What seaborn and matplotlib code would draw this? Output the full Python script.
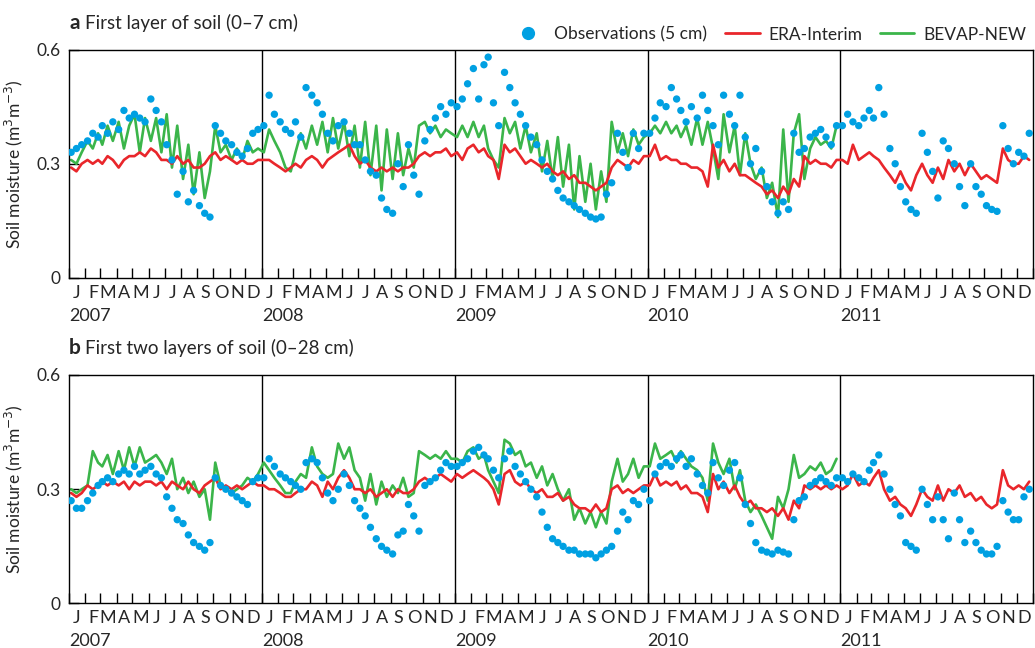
import matplotlib
matplotlib.use("Agg")
import matplotlib.pyplot as plt
import matplotlib.dates as mdates
from matplotlib.lines import Line2D
from matplotlib.ticker import FuncFormatter, NullFormatter
import numpy as np
import pandas as pd
import seaborn as sns

sns.set_style("ticks")
plt.rcParams["font.family"] = ["Lato", "DejaVu Sans"]

BLUE = "#00a0e2"
RED = "#e9262b"
GREEN = "#3bb54a"

nan = np.nan
years = [2007, 2008, 2009, 2010, 2011]
month_letters = ["J", "F", "M", "A", "M", "J", "J", "A", "S", "O", "N", "D"]
dekad_days = [5, 15, 25]  # three values per month

# ---- panel a: first layer of soil (0-7 cm) ----
obs_top = [
    # 2007
    0.33, 0.34, 0.35, 0.36, 0.38, 0.37, 0.40, 0.38, 0.41, 0.39, 0.44, 0.42,
    0.43, 0.42, 0.41, 0.47, 0.44, 0.41, 0.35, 0.31, 0.22, 0.28, 0.20, 0.23,
    0.19, 0.17, 0.16, 0.40, 0.38, 0.36, 0.35, 0.33, 0.32, 0.34, 0.38, 0.39,
    # 2008
    0.40, 0.48, 0.43, 0.41, 0.39, 0.38, 0.41, 0.37, 0.50, 0.48, 0.46, 0.43,
    0.38, 0.36, 0.40, 0.41, 0.38, 0.35, 0.35, 0.31, 0.28, 0.27, 0.21, 0.18,
    0.17, 0.30, 0.24, 0.35, 0.27, 0.22, 0.36, 0.39, 0.42, 0.45, 0.43, 0.46,
    # 2009
    0.45, 0.47, 0.51, 0.55, 0.47, 0.56, 0.58, 0.46, 0.40, 0.54, 0.50, 0.46,
    0.43, 0.40, 0.37, 0.35, 0.31, 0.28, 0.26, 0.23, 0.21, 0.20, 0.19, 0.18,
    0.17, 0.16, 0.155, 0.16, 0.22, 0.25, 0.38, 0.33, 0.29, 0.38, 0.34, 0.38,
    # 2010
    0.38, 0.42, 0.46, 0.45, 0.50, 0.47, 0.44, 0.41, 0.45, 0.42, 0.48, 0.44,
    0.40, 0.35, 0.48, 0.43, 0.40, 0.48, 0.37, 0.30, 0.34, 0.28, 0.24, 0.20,
    0.17, 0.20, 0.18, 0.38, 0.33, 0.34, 0.37, 0.38, 0.39, 0.37, 0.35, 0.40,
    # 2011
    0.40, 0.43, 0.41, 0.40, 0.42, 0.44, 0.42, 0.50, 0.43, 0.34, 0.30, 0.24,
    0.20, 0.18, 0.17, 0.38, 0.33, 0.28, 0.21, 0.36, 0.34, 0.30, 0.24, 0.19,
    0.30, 0.24, 0.22, 0.19, 0.18, 0.175, 0.40, 0.34, 0.30, 0.33, 0.32, 0.38,
]
era_top = [
    0.29, 0.28, 0.30, 0.31, 0.30, 0.31, 0.30, 0.32, 0.31, 0.29, 0.31, 0.32,
    0.32, 0.33, 0.32, 0.34, 0.33, 0.31, 0.31, 0.30, 0.32, 0.30, 0.31, 0.29,
    0.29, 0.30, 0.32, 0.33, 0.31, 0.32, 0.31, 0.30, 0.31, 0.30, 0.30, 0.31,
    0.31, 0.31, 0.30, 0.29, 0.28, 0.29, 0.30, 0.29, 0.31, 0.32, 0.31, 0.29,
    0.31, 0.32, 0.33, 0.34, 0.35, 0.32, 0.30, 0.31, 0.29, 0.28, 0.29, 0.28,
    0.29, 0.28, 0.29, 0.29, 0.30, 0.32, 0.33, 0.32, 0.33, 0.33, 0.34, 0.32,
    0.33, 0.31, 0.34, 0.35, 0.33, 0.34, 0.32, 0.31, 0.26, 0.35, 0.33, 0.34,
    0.32, 0.30, 0.31, 0.30, 0.29, 0.30, 0.28, 0.27, 0.28, 0.26, 0.27, 0.25,
    0.25, 0.24, 0.23, 0.24, 0.25, 0.29, 0.31, 0.30, 0.29, 0.31, 0.30, 0.32,
    0.32, 0.35, 0.31, 0.32, 0.31, 0.31, 0.30, 0.30, 0.29, 0.29, 0.28, 0.24,
    0.35, 0.29, 0.31, 0.28, 0.30, 0.27, 0.27, 0.26, 0.25, 0.24, 0.22, 0.23,
    0.21, 0.24, 0.22, 0.26, 0.24, 0.32, 0.30, 0.31, 0.30, 0.30, 0.29, 0.31,
    0.31, 0.30, 0.35, 0.31, 0.32, 0.33, 0.32, 0.31, 0.29, 0.27, 0.25, 0.28,
    0.25, 0.23, 0.27, 0.30, 0.27, 0.25, 0.29, 0.26, 0.31, 0.28, 0.30, 0.27,
    0.30, 0.28, 0.26, 0.27, 0.26, 0.25, 0.34, 0.31, 0.30, 0.30, 0.32, 0.31,
]
bevap_top = [
    0.31, 0.30, 0.33, 0.36, 0.34, 0.38, 0.35, 0.40, 0.36, 0.41, 0.34, 0.40,
    0.43, 0.33, 0.42, 0.36, 0.42, 0.33, 0.43, 0.29, 0.40, 0.26, 0.35, 0.22,
    0.33, 0.21, 0.28, 0.40, 0.33, 0.35, 0.31, 0.34, 0.31, 0.36, 0.33, 0.34,
    0.33, 0.39, 0.36, 0.33, 0.29, 0.28, 0.33, 0.38, 0.34, 0.40, 0.35, 0.41,
    0.33, 0.42, 0.34, 0.41, 0.32, 0.40, 0.29, 0.41, 0.27, 0.40, 0.23, 0.39,
    0.26, 0.38, 0.27, 0.34, 0.29, 0.40, 0.41, 0.38, 0.40, 0.37, 0.39, 0.38,
    0.37, 0.40, 0.37, 0.41, 0.37, 0.40, 0.34, 0.31, 0.29, 0.42, 0.38, 0.41,
    0.34, 0.40, 0.33, 0.38, 0.28, 0.36, 0.26, 0.37, 0.24, 0.35, 0.18, 0.32,
    0.20, 0.30, 0.18, 0.28, 0.20, 0.41, 0.33, 0.38, 0.32, 0.39, 0.35, 0.37,
    0.38, 0.40, 0.38, 0.41, 0.38, 0.40, 0.37, 0.40, 0.35, 0.42, 0.35, 0.41,
    0.34, 0.26, 0.43, 0.33, 0.40, 0.27, 0.38, 0.30, 0.26, 0.29, 0.21, 0.25,
    0.16, 0.39, 0.20, 0.38, 0.43, 0.26, 0.34, 0.37, 0.35, 0.36, 0.34, 0.40,
] + [nan] * 36  # no BEVAP-NEW run for 2011

# ---- panel b: first two layers of soil (0-28 cm) ----
obs_bottom = [
    0.27, 0.25, 0.25, 0.27, 0.29, 0.31, 0.32, 0.33, 0.32, 0.34, 0.35, 0.34,
    0.36, 0.34, 0.35, 0.36, 0.34, 0.33, 0.28, 0.25, 0.22, 0.21, 0.18, 0.16,
    0.15, 0.14, 0.16, 0.33, 0.31, 0.30, 0.29, 0.28, 0.27, 0.26, 0.32, 0.33,
    0.33, 0.38, 0.36, 0.34, 0.33, 0.32, 0.31, 0.30, 0.37, 0.38, 0.37, 0.33,
    0.29, 0.27, 0.30, 0.34, 0.31, 0.27, 0.25, 0.23, 0.20, 0.17, 0.15, 0.14,
    0.13, 0.18, 0.19, 0.26, 0.23, 0.19, 0.31, 0.32, 0.33, 0.35, 0.37, 0.36,
    0.36, 0.37, 0.38, 0.40, 0.41, 0.39, 0.38, 0.35, 0.33, 0.38, 0.40, 0.36,
    0.34, 0.32, 0.30, 0.28, 0.24, 0.20, 0.17, 0.16, 0.15, 0.14, 0.14, 0.13,
    0.13, 0.13, 0.12, 0.13, 0.14, 0.15, 0.19, 0.24, 0.22, 0.27, 0.26, 0.30,
    0.27, 0.34, 0.36, 0.37, 0.36, 0.38, 0.39, 0.36, 0.38, 0.34, 0.31, 0.29,
    0.37, 0.33, 0.31, 0.35, 0.37, 0.33, 0.26, 0.21, 0.16, 0.14, 0.135, 0.13,
    0.14, 0.135, 0.13, 0.22, 0.27, 0.28, 0.31, 0.32, 0.33, 0.32, 0.31, 0.33,
    0.33, 0.32, 0.34, 0.33, 0.32, 0.35, 0.37, 0.39, 0.34, 0.30, 0.26, 0.23,
    0.16, 0.15, 0.14, 0.30, 0.26, 0.22, 0.28, 0.22, 0.17, 0.29, 0.22, 0.16,
    0.19, 0.16, 0.14, 0.13, 0.13, 0.15, 0.27, 0.24, 0.22, 0.22, 0.28, 0.30,
]
era_bottom = [
    0.29, 0.28, 0.29, 0.31, 0.30, 0.31, 0.32, 0.31, 0.32, 0.31, 0.32, 0.30,
    0.32, 0.31, 0.32, 0.32, 0.31, 0.32, 0.30, 0.32, 0.31, 0.30, 0.32, 0.30,
    0.29, 0.31, 0.32, 0.33, 0.30, 0.31, 0.30, 0.31, 0.30, 0.31, 0.32, 0.31,
    0.31, 0.30, 0.30, 0.29, 0.28, 0.28, 0.29, 0.30, 0.30, 0.32, 0.31, 0.28,
    0.32, 0.30, 0.33, 0.35, 0.33, 0.30, 0.30, 0.29, 0.30, 0.28, 0.29, 0.30,
    0.28, 0.30, 0.29, 0.29, 0.30, 0.32, 0.33, 0.32, 0.33, 0.34, 0.33, 0.32,
    0.34, 0.33, 0.34, 0.35, 0.34, 0.33, 0.32, 0.30, 0.26, 0.34, 0.35, 0.32,
    0.31, 0.32, 0.30, 0.29, 0.30, 0.28, 0.28, 0.29, 0.27, 0.28, 0.26, 0.25,
    0.25, 0.24, 0.26, 0.24, 0.25, 0.30, 0.31, 0.29, 0.30, 0.29, 0.30, 0.31,
    0.31, 0.34, 0.31, 0.32, 0.31, 0.32, 0.30, 0.31, 0.29, 0.29, 0.28, 0.24,
    0.34, 0.30, 0.32, 0.29, 0.31, 0.28, 0.26, 0.27, 0.25, 0.25, 0.24, 0.25,
    0.23, 0.25, 0.22, 0.27, 0.25, 0.31, 0.30, 0.31, 0.30, 0.31, 0.30, 0.31,
    0.30, 0.31, 0.34, 0.31, 0.32, 0.31, 0.33, 0.35, 0.30, 0.27, 0.28, 0.26,
    0.25, 0.23, 0.26, 0.30, 0.28, 0.27, 0.31, 0.27, 0.30, 0.29, 0.31, 0.28,
    0.29, 0.27, 0.28, 0.26, 0.25, 0.26, 0.35, 0.31, 0.30, 0.31, 0.30, 0.32,
]
bevap_bottom = [
    0.30, 0.29, 0.30, 0.31, 0.40, 0.37, 0.36, 0.39, 0.34, 0.40, 0.35, 0.41,
    0.36, 0.41, 0.37, 0.38, 0.39, 0.37, 0.34, 0.38, 0.30, 0.33, 0.29, 0.32,
    0.28, 0.30, 0.22, 0.37, 0.31, 0.30, 0.29, 0.30, 0.31, 0.33, 0.32, 0.34,
    0.37, 0.35, 0.33, 0.31, 0.29, 0.29, 0.32, 0.34, 0.33, 0.41, 0.36, 0.34,
    0.33, 0.34, 0.42, 0.38, 0.41, 0.35, 0.33, 0.27, 0.34, 0.26, 0.32, 0.28,
    0.31, 0.29, 0.33, 0.28, 0.29, 0.40, 0.39, 0.38, 0.39, 0.38, 0.40, 0.38,
    0.38, 0.37, 0.40, 0.41, 0.38, 0.39, 0.35, 0.32, 0.29, 0.43, 0.42, 0.39,
    0.40, 0.36, 0.37, 0.33, 0.36, 0.31, 0.34, 0.30, 0.27, 0.30, 0.22, 0.25,
    0.21, 0.24, 0.20, 0.24, 0.21, 0.32, 0.38, 0.32, 0.34, 0.38, 0.33, 0.36,
    0.36, 0.42, 0.38, 0.39, 0.40, 0.37, 0.40, 0.38, 0.36, 0.35, 0.33, 0.27,
    0.42, 0.37, 0.34, 0.38, 0.30, 0.35, 0.27, 0.24, 0.26, 0.23, 0.20, 0.17,
    0.28, 0.25, 0.30, 0.39, 0.33, 0.34, 0.36, 0.35, 0.37, 0.34, 0.35, 0.38,
] + [nan] * 36

dates = pd.to_datetime([f"{y}-{m:02d}-{d:02d}" for y in years
                        for m in range(1, 13) for d in dekad_days])


def draw_panel(ax, obs, era, bevap, letter, title):
    df = pd.DataFrame({"date": dates, "obs": obs, "era": era, "bevap": bevap})
    sns.lineplot(data=df, x="date", y="bevap", color=GREEN, lw=1.9,
                 estimator=None, ax=ax, zorder=2)
    sns.lineplot(data=df, x="date", y="era", color=RED, lw=1.9,
                 estimator=None, ax=ax, zorder=2.1)
    sns.scatterplot(data=df, x="date", y="obs", color=BLUE, s=28,
                    edgecolor="none", ax=ax, zorder=3)

    ax.set_xlim(pd.Timestamp(f"{years[0]}-01-01"), pd.Timestamp(f"{years[-1] + 1}-01-01"))
    ax.set_ylim(0, 0.6)
    for y in years[1:]:
        ax.axvline(pd.Timestamp(f"{y}-01-01"), color="black", lw=1, zorder=1)

    # month ticks inside, month letters centred on each month
    ax.xaxis.set_major_locator(mdates.MonthLocator(bymonthday=1))
    ax.xaxis.set_major_formatter(NullFormatter())
    ax.xaxis.set_minor_locator(mdates.MonthLocator(bymonthday=16))
    ax.xaxis.set_minor_formatter(FuncFormatter(
        lambda v, p: month_letters[mdates.num2date(v).month - 1]))
    ax.tick_params(axis="x", which="major", direction="in", length=7, width=1, color="black")
    ax.tick_params(axis="x", which="minor", length=0, pad=5, labelsize=13)
    for y in years:
        ax.text(pd.Timestamp(f"{y}-01-01"), -0.165, str(y), fontsize=13,
                ha="left", va="center", transform=ax.get_xaxis_transform())

    ax.set_yticks([0, 0.3, 0.6])
    ax.set_yticklabels(["0", "0.3", "0.6"])
    ax.tick_params(axis="y", direction="in", length=7, width=1, pad=6,
                   labelsize=12.5, color="black")
    ax.set_xlabel("")
    ax.set_ylabel("Soil moisture (m$^3$m$^{-3}$)", fontsize=12.5, labelpad=8)
    for sp in ax.spines.values():
        sp.set_visible(True)
        sp.set_color("black")
        sp.set_linewidth(1)

    ax.text(0, 1.09, letter, transform=ax.transAxes, fontsize=15,
            fontweight="bold", ha="left", va="baseline")
    ax.text(0.017, 1.09, title, transform=ax.transAxes, fontsize=13.5,
            ha="left", va="baseline")


fig = plt.figure(figsize=(10.35, 6.48), dpi=100)
ax_top = fig.add_axes([0.0667, 0.571, 0.9313, 0.3526])
ax_bot = fig.add_axes([0.0667, 0.0687, 0.9313, 0.3526])

draw_panel(ax_top, obs_top, era_top, bevap_top, "a", "First layer of soil (0–7 cm)")
draw_panel(ax_bot, obs_bottom, era_bottom, bevap_bottom, "b", "First two layers of soil (0–28 cm)")

handles = [
    Line2D([], [], marker="o", ls="none", color=BLUE, markersize=8.5),
    Line2D([], [], color=RED, lw=2),
    Line2D([], [], color=GREEN, lw=2),
]
ax_top.legend(handles, ["Observations (5 cm)", "ERA-Interim", "BEVAP-NEW"],
              loc="lower right", bbox_to_anchor=(1.0, 1.0), ncol=3, frameon=False,
              fontsize=12.5, handlelength=2.0, handletextpad=0.5,
              columnspacing=1.0, borderaxespad=0.3, borderpad=0.1)

fig.savefig("out.png", dpi=100)
